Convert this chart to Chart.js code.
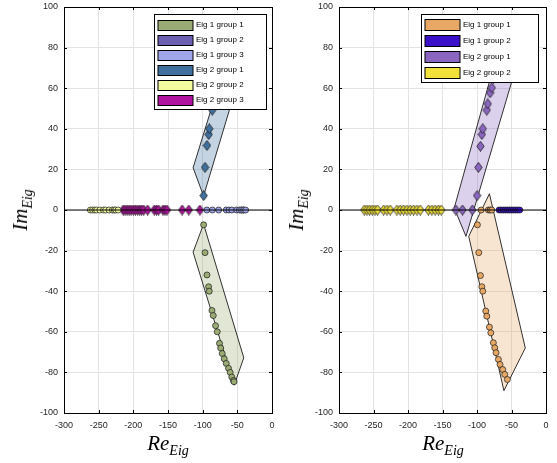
<!DOCTYPE html>
<html>
<head>
<meta charset="utf-8">
<script src="https://cdn.jsdelivr.net/npm/chart.js@4.4.0/dist/chart.umd.min.js"></script>
<style>
  body { margin: 0; background: #fff; width: 557px; height: 463px; position: relative; overflow: hidden; }
  canvas { position: absolute; top: 0; }
  .lbl { position: absolute; font-family: 'Liberation Serif', serif; font-style: italic; font-size: 21px; color: #000; white-space: nowrap; line-height: 24px; }
  .lbl sub { font-size: 14px; vertical-align: -5px; line-height: 0; }
</style>
</head>
<body>
<canvas id="left" width="278" height="463" style="left:0"></canvas>
<canvas id="right" width="279" height="463" style="left:278px"></canvas>
<div class="lbl" style="left:168px;top:431px;transform:translateX(-50%)">Re<sub>Eig</sub></div>
<div class="lbl" style="left:443px;top:431px;transform:translateX(-50%)">Re<sub>Eig</sub></div>
<div class="lbl" style="left:20px;top:210px;transform:translate(-50%,-50%) rotate(-90deg)">Im<sub>Eig</sub></div>
<div class="lbl" style="left:296px;top:210px;transform:translate(-50%,-50%) rotate(-90deg)">Im<sub>Eig</sub></div>
<script>
const xTickValues = [-300, -250, -200, -150, -100, -50, 0]
const yTickValues = [-100, -80, -60, -40, -20, 0, 20, 40, 60, 80, 100]

// left panel
const leftLabels = ['Eig 1 group 1', 'Eig 1 group 2', 'Eig 1 group 3', 'Eig 2 group 1', 'Eig 2 group 2', 'Eig 2 group 3']
const leftColors = ['#9aab74', '#6c5fb2', '#9fa6ea', '#3f709e', '#f2fb9e', '#b0139f']
const leftE1G1 = [[-98.6, -7.3], [-96.6, -21], [-93.8, -32], [-91.4, -37.8], [-90.5, -40], [-86.6, -49.5], [-84.7, -52],
    [-81.4, -57], [-79, -60], [-75.7, -65.7], [-74, -68], [-71.8, -70.7], [-68.9, -73.3], [-66, -75.6], [-62.7, -78],
    [-60.3, -80], [-58, -82.3], [-55.6, -84], [-54.8, -84.6]]
const leftE1G2Re = [-44, -41]
const leftE1G3Re = [-94, -86, -77, -66, -62, -58, -51, -47, -44, -41, -38]
const leftE2G1 = [[-98.6, 7.1], [-96.6, 21], [-93.8, 31.8], [-91.4, 37.2], [-90.5, 40], [-86.1, 49.2], [-84.7, 52],
    [-81.4, 57], [-79, 60], [-75.7, 65.7], [-74, 68], [-71.8, 70.7], [-68.9, 73.3], [-66, 75.6], [-62.7, 78],
    [-60.3, 80], [-58, 82.3], [-55.6, 84]]
const leftE2G2Re = [-262, -258.8, -255.5, -253, -248.3, -243, -240, -235, -230.2, -227.5, -225.4, -222]
const leftE2G3Re = [-214.7, -212, -209, -206, -203.2, -200, -197, -193.8, -190.8, -188, -185, -179.3,
    -169.8, -166.5, -163.6, -157.3, -154.5, -151.5, -129.6, -120, -104]
const leftHull1 = [[-98.7, -6.9], [-113.8, -20.8], [-54.6, -86.3], [-40.7, -72.8]]
const leftHull2 = [[-98.7, 6.9], [-113.8, 20.8], [-54.6, 86.3], [-40.7, 72.8]]

// right panel
const rightLabels = ['Eig 1 group 1', 'Eig 1 group 2', 'Eig 2 group 1', 'Eig 2 group 2']
const rightColors = ['#e7a866', '#3a10c8', '#8b66c0', '#f2e13a']
const rightE1G1 = [[-94, 0], [-83.5, 0], [-81, 0], [-78.6, 0], [-99.4, -7.3], [-97.4, -21], [-95, -32.3], [-93, -37.8],
    [-91.6, -40], [-87.3, -49.8], [-85.8, -52.3], [-82, -57.7], [-80, -60.5], [-76.3, -65.4], [-74.3, -67.9],
    [-72.4, -70.3], [-69, -73.6], [-66.6, -76.1], [-62.7, -78.6], [-59.8, -81], [-56, -83.5]]
const rightE1G2Re = [-68, -65, -62, -59, -56, -53, -50, -47, -44, -41, -38]
const rightE2G1 = [[-130.7, 0], [-121, 0], [-106.7, 0], [-99.9, 7.1], [-98, 21], [-95, 31.4], [-93, 37.2], [-91.6, 40],
    [-85.8, 49.2], [-84.4, 52.3], [-81, 57.7], [-78.6, 60.2], [-76, 65], [-74, 68], [-72, 70], [-69, 73.6],
    [-66.6, 76], [-62.7, 78.6], [-59.8, 81], [-56, 83.5]]
const rightE2G2Re = [-263.4, -259.5, -255.7, -251.8, -247.9, -244.1, -235.4, -230.5, -225.8, -216.1, -211.3,
    -206.5, -201.6, -196.8, -192, -187.1, -182.3, -170.3, -165.4, -160.6, -155.9, -151.9]
const rightHull1 = [[-82, 8], [-30, -68], [-61, -89], [-112, -13]]
const rightHull2 = [[-133, 1], [-116, -13], [-35, 80], [-60, 90]]

const pts = (pairs) => pairs.map(([x, y]) => ({ x, y }))
const onAxis = (re) => re.map((x) => ({ x, y: 0 }))

function fade(hex, a) {
    const n = parseInt(hex.slice(1), 16)
    return `rgba(${n >> 16}, ${(n >> 8) & 255}, ${n & 255}, ${a})`
}

// matlab style diamond, a bit taller than wide
const diamonds = {}
function diamond(color) {
    if (!diamonds[color]) {
        const c = document.createElement('canvas')
        c.width = 9
        c.height = 11
        const g = c.getContext('2d')
        g.beginPath()
        g.moveTo(4.5, 0.5); g.lineTo(8.2, 5.5); g.lineTo(4.5, 10.5); g.lineTo(0.8, 5.5)
        g.closePath()
        g.fillStyle = color
        g.fill()
        g.strokeStyle = '#1a1a1a'
        g.lineWidth = 0.8
        g.stroke()
        diamonds[color] = c
    }
    return diamonds[color]
}

function markers(label, data, color, style, order) {
    return {
        type: 'scatter', label, data, order,
        pointStyle: style === 'circle' ? 'circle' : diamond(color),
        pointRadius: 3,
        backgroundColor: color,
        borderColor: '#1a1a1a',
        borderWidth: 0.7,
    }
}

function hull(data, color) {
    return {
        type: 'line', data: pts([...data, data[0]]), order: 10,
        fill: 'shape', backgroundColor: fade(color, 0.3),
        borderColor: '#000', borderWidth: 0.8, pointRadius: 0, tension: 0,
    }
}

const zeroLine = () => ({
    type: 'line', data: [{ x: -300, y: 0 }, { x: 0, y: 0 }], order: -1,
    borderColor: '#000', borderWidth: 1, pointRadius: 0, fill: false,
})

const tickFont = { family: 'Liberation Sans', size: 9 }

function axes(yWidth) {
    return {
        x: {
            type: 'linear', min: -300, max: 0,
            afterBuildTicks: (s) => { s.ticks = xTickValues.map((v) => ({ value: v })) },
            afterFit: (s) => {
                s.height = 50
                s.paddingLeft = 0
                s.paddingRight = 0
            },
            grid: { color: '#e3e3e3', drawTicks: false },
            border: { display: false },
            ticks: { padding: 7, color: '#262626', font: tickFont, maxRotation: 0, autoSkip: false },
        },
        y: {
            type: 'linear', min: -100, max: 100,
            afterBuildTicks: (s) => { s.ticks = yTickValues.map((v) => ({ value: v })) },
            afterFit: (s) => {
                s.width = yWidth
                s.paddingTop = 0
                s.paddingBottom = 0
            },
            grid: { color: '#e3e3e3', drawTicks: false },
            border: { display: false },
            ticks: { padding: 6, color: '#262626', font: tickFont, autoSkip: false },
        },
    }
}

const boxTicks = {
    id: 'boxTicks',
    afterDatasetsDraw(chart) {
        const { ctx, chartArea: a, scales: { x, y } } = chart
        ctx.save()
        ctx.strokeStyle = '#000'
        ctx.lineWidth = 1
        ctx.beginPath()
        xTickValues.forEach((v) => {
            const p = Math.round(x.getPixelForValue(v)) + 0.5
            ctx.moveTo(p, a.bottom); ctx.lineTo(p, a.bottom - 3)
            ctx.moveTo(p, a.top); ctx.lineTo(p, a.top + 3)
        })
        yTickValues.forEach((v) => {
            const p = Math.round(y.getPixelForValue(v)) + 0.5
            ctx.moveTo(a.left, p); ctx.lineTo(a.left + 3, p)
            ctx.moveTo(a.right, p); ctx.lineTo(a.right - 3, p)
        })
        ctx.stroke()
        ctx.strokeRect(Math.round(a.left) + 0.5, Math.round(a.top) + 0.5, Math.round(a.width), Math.round(a.height))
        ctx.restore()
    },
}

const boxLegend = {
    id: 'boxLegend',
    afterDraw(chart, args, opts) {
        const { ctx, chartArea: a } = chart
        const rows = opts.labels.length
        const w = opts.width
        const h = rows * opts.rowH + 2 * opts.pad
        const left = Math.round(a.right - opts.inset - w) + 0.5
        const top = Math.round(a.top + 7) + 0.5
        ctx.save()
        ctx.fillStyle = '#fff'
        ctx.fillRect(left, top, w, h)
        ctx.strokeStyle = '#000'
        ctx.lineWidth = 1
        ctx.strokeRect(left, top, w, h)
        ctx.font = '8px "Liberation Sans"'
        ctx.textBaseline = 'middle'
        opts.labels.forEach((lab, i) => {
            const cy = top + opts.pad + opts.rowH * (i + 0.5)
            ctx.fillStyle = opts.colors[i]
            ctx.fillRect(left + 3.5, Math.round(cy - opts.swH / 2) + 0.5, 35, opts.swH)
            ctx.strokeRect(left + 3.5, Math.round(cy - opts.swH / 2) + 0.5, 35, opts.swH)
            ctx.fillStyle = '#000'
            ctx.fillText(lab, left + 41.5, cy)
        })
        ctx.restore()
    },
}

function makeChart(id, datasets, yWidth, padRight, legend) {
    return new Chart(document.getElementById(id).getContext('2d'), {
        type: 'scatter',
        data: { datasets },
        options: {
            responsive: false,
            animation: false,
            events: [],
            layout: { padding: { top: 7, right: padRight, left: 0, bottom: 0 } },
            scales: axes(yWidth),
            plugins: { legend: { display: false }, tooltip: { enabled: false }, boxLegend: legend },
        },
        plugins: [boxTicks, boxLegend],
    })
}

makeChart('left', [
    markers(leftLabels[0], pts(leftE1G1), leftColors[0], 'circle', 1),
    markers(leftLabels[1], onAxis(leftE1G2Re), leftColors[1], 'circle', 3),
    markers(leftLabels[2], onAxis(leftE1G3Re), leftColors[2], 'circle', 2),
    markers(leftLabels[3], pts(leftE2G1), leftColors[3], 'diamond', 1),
    markers(leftLabels[4], onAxis(leftE2G2Re), leftColors[4], 'circle', 1),
    markers(leftLabels[5], onAxis(leftE2G3Re), leftColors[5], 'diamond', 1),
    hull(leftHull1, leftColors[0]),
    hull(leftHull2, leftColors[3]),
    zeroLine(),
], 64, 6, { labels: leftLabels, colors: leftColors, width: 112, rowH: 15, pad: 2.5, swH: 10, inset: 6 })

makeChart('right', [
    markers(rightLabels[0], pts(rightE1G1), rightColors[0], 'circle', 1),
    markers(rightLabels[1], onAxis(rightE1G2Re), rightColors[1], 'circle', 1),
    markers(rightLabels[2], pts(rightE2G1), rightColors[2], 'diamond', 1),
    markers(rightLabels[3], onAxis(rightE2G2Re), rightColors[3], 'diamond', 1),
    hull(rightHull1, rightColors[0]),
    hull(rightHull2, rightColors[2]),
    zeroLine(),
], 61, 11, { labels: rightLabels, colors: rightColors, width: 117, rowH: 16, pad: 2, swH: 11, inset: 8 })
</script>
</body>
</html>
